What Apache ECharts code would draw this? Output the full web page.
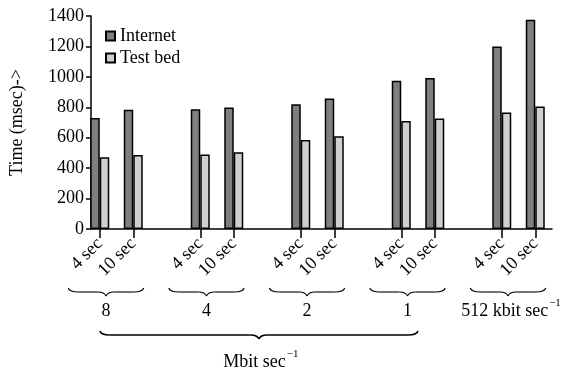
<!DOCTYPE html>
<html><head><meta charset="utf-8">
<script src="https://cdn.jsdelivr.net/npm/echarts@6/dist/echarts.min.js"></script>
<style>html,body{margin:0;padding:0;background:#fff}#c{width:569px;height:371px}</style>
</head><body><div id="c"></div>
<script>
const durations = ['4 sec', '10 sec'];
const groups = ['8', '4', '2', '1', '512'];
const internet = [730, 783, 787, 798, 820, 857, 975, 992, 1200, 1375];
const testbed = [472, 487, 490, 505, 585, 610, 710, 727, 765, 805];
const yTicks = [0, 200, 400, 600, 800, 1000, 1200, 1400];

// build slotted category axis (one empty slot between groups)
const cats = [], dInt = [], dTb = [], groupStart = [];
groups.forEach((g, gi) => {
  if (gi > 0) { cats.push(''); dInt.push('-'); dTb.push('-'); }
  groupStart.push(cats.length);
  durations.forEach((d, di) => {
    cats.push(d);
    dInt.push(internet[gi * 2 + di]);
    dTb.push(testbed[gi * 2 + di]);
  });
});

const FONT = 'Liberation Serif';
const chart = echarts.init(document.getElementById('c'), null, {renderer: 'canvas'});
const option = {
  animation: false,
  textStyle: {fontFamily: FONT, color: '#000'},
  grid: [
    {left: 83, right: 17, top: 16, bottom: 142},
    {left: 79, right: 17, top: 16, bottom: 142}
  ],
  legend: {
    orient: 'vertical', left: 100, top: 22, itemWidth: 9, itemHeight: 9, itemGap: 4, icon: 'rect',
    textStyle: {fontFamily: FONT, fontSize: 18, color: '#000'},
    data: ['Internet', 'Test bed']
  },
  xAxis: [
    {
      type: 'category', gridIndex: 0, data: cats, boundaryGap: true,
      axisLine: {show: false},
      axisTick: {show: true, alignWithLabel: true, length: 9, interval: (i, v) => v !== '',
        lineStyle: {color: '#000', width: 1.5}},
      axisLabel: {interval: 0, rotate: 45, margin: 12, fontFamily: FONT, fontSize: 18, color: '#000'},
      splitLine: {show: false}
    },
    {
      type: 'value', gridIndex: 1, min: 0, max: 1,
      axisLine: {show: true, lineStyle: {color: '#000', width: 1.5}},
      axisTick: {show: false}, axisLabel: {show: false}, splitLine: {show: false}
    }
  ],
  yAxis: [
    {type: 'value', gridIndex: 0, min: 0, max: 1400, interval: 200, show: false},
    {
      type: 'value', gridIndex: 1, min: yTicks[0], max: yTicks[yTicks.length - 1], interval: 200,
      name: 'Time (msec)->', nameLocation: 'middle', nameRotate: 90, nameGap: 65,
      nameTextStyle: {fontFamily: FONT, fontSize: 18, color: '#000'},
      axisLine: {show: true, lineStyle: {color: '#000', width: 1.5}},
      axisTick: {show: true, length: 5, lineStyle: {color: '#000', width: 1.5}},
      axisLabel: {margin: 7, fontFamily: FONT, fontSize: 18, color: '#000', formatter: v => String(v)},
      splitLine: {show: false}
    }
  ],
  series: [
    {name: 'Internet', type: 'bar', xAxisIndex: 0, yAxisIndex: 0, data: dInt, barWidth: 9.5, barGap: '0%',
     itemStyle: {color: '#7f7f7f', borderColor: '#000', borderWidth: 1.5}},
    {name: 'Test bed', type: 'bar', xAxisIndex: 0, yAxisIndex: 0, data: dTb, barWidth: 9.5, barGap: '0%',
     itemStyle: {color: '#cfcfcf', borderColor: '#000', borderWidth: 1.5}}
  ]
};
chart.setOption(option);

// braces and group labels positioned from the axis scale
function brace(x0, x1, y, h, lw) {
  const xm = (x0 + x1) / 2;
  const st = {fill: null, stroke: '#000', lineWidth: lw};
  const mk = (a, b, c1, c2) => ({type: 'bezierCurve', silent: true, style: st,
    shape: {x1: a[0], y1: a[1], x2: b[0], y2: b[1], cpx1: c1[0], cpy1: c1[1], cpx2: c2[0], cpy2: c2[1]}});
  return [
    mk([x0, y - h], [x0 + 10, y], [x0 + 1, y - 1], [x0 + 4, y]),
    {type: 'line', silent: true, style: st, shape: {x1: x0 + 10, y1: y, x2: xm - 8, y2: y}},
    mk([xm - 8, y], [xm, y + h], [xm - 3, y], [xm - 1, y + h * 0.4]),
    mk([xm, y + h], [xm + 8, y], [xm + 1, y + h * 0.4], [xm + 3, y]),
    {type: 'line', silent: true, style: st, shape: {x1: xm + 8, y1: y, x2: x1 - 10, y2: y}},
    mk([x1 - 10, y], [x1, y - h], [x1 - 4, y], [x1 - 1, y - 1])
  ];
}
const px = i => chart.convertToPixel({xAxisIndex: 0}, i);
const y0 = chart.convertToPixel({yAxisIndex: 0}, 0);
let gfx = [];
const rich = {n: {fontFamily: FONT, fontSize: 18, fill: '#000'}, s: {fontFamily: FONT, fontSize: 11, fill: '#000', padding: [0, 0, 15, 1]}};
groupStart.forEach((s, gi) => {
  const a = px(s), b = px(s + 1);
  const x0 = a - 31.5, x1 = b + 10.5;
  gfx = gfx.concat(brace(x0, x1, y0 + 63, 4, 1.1));
  const last = gi === groups.length - 1;
  const label = last ? '{n|' + groups[gi] + ' kbit sec}{s|−1}' : '{n|' + groups[gi] + '}';
  gfx.push({type: 'text', x: (x0 + x1) / 2 + (last ? 3 : 0), y: y0 + 82, silent: true,
    style: {text: label, rich: rich, align: 'center', verticalAlign: 'middle', fill: '#000', fontFamily: FONT, fontSize: 18}});
});
// big brace over the Mbit groups
const bx0 = px(groupStart[0]);
const bx1 = (px(groupStart[3]) + px(groupStart[3] + 1)) / 2;
gfx = gfx.concat(brace(bx0, bx1, y0 + 106, 4, 1.6));
gfx.push({type: 'text', x: (bx0 + bx1) / 2 + 2, y: y0 + 133, silent: true,
  style: {text: '{n|Mbit sec}{s|−1}', rich: rich, align: 'center', verticalAlign: 'middle', fill: '#000', fontFamily: FONT, fontSize: 18}});
chart.setOption({graphic: gfx});
</script></body></html>
